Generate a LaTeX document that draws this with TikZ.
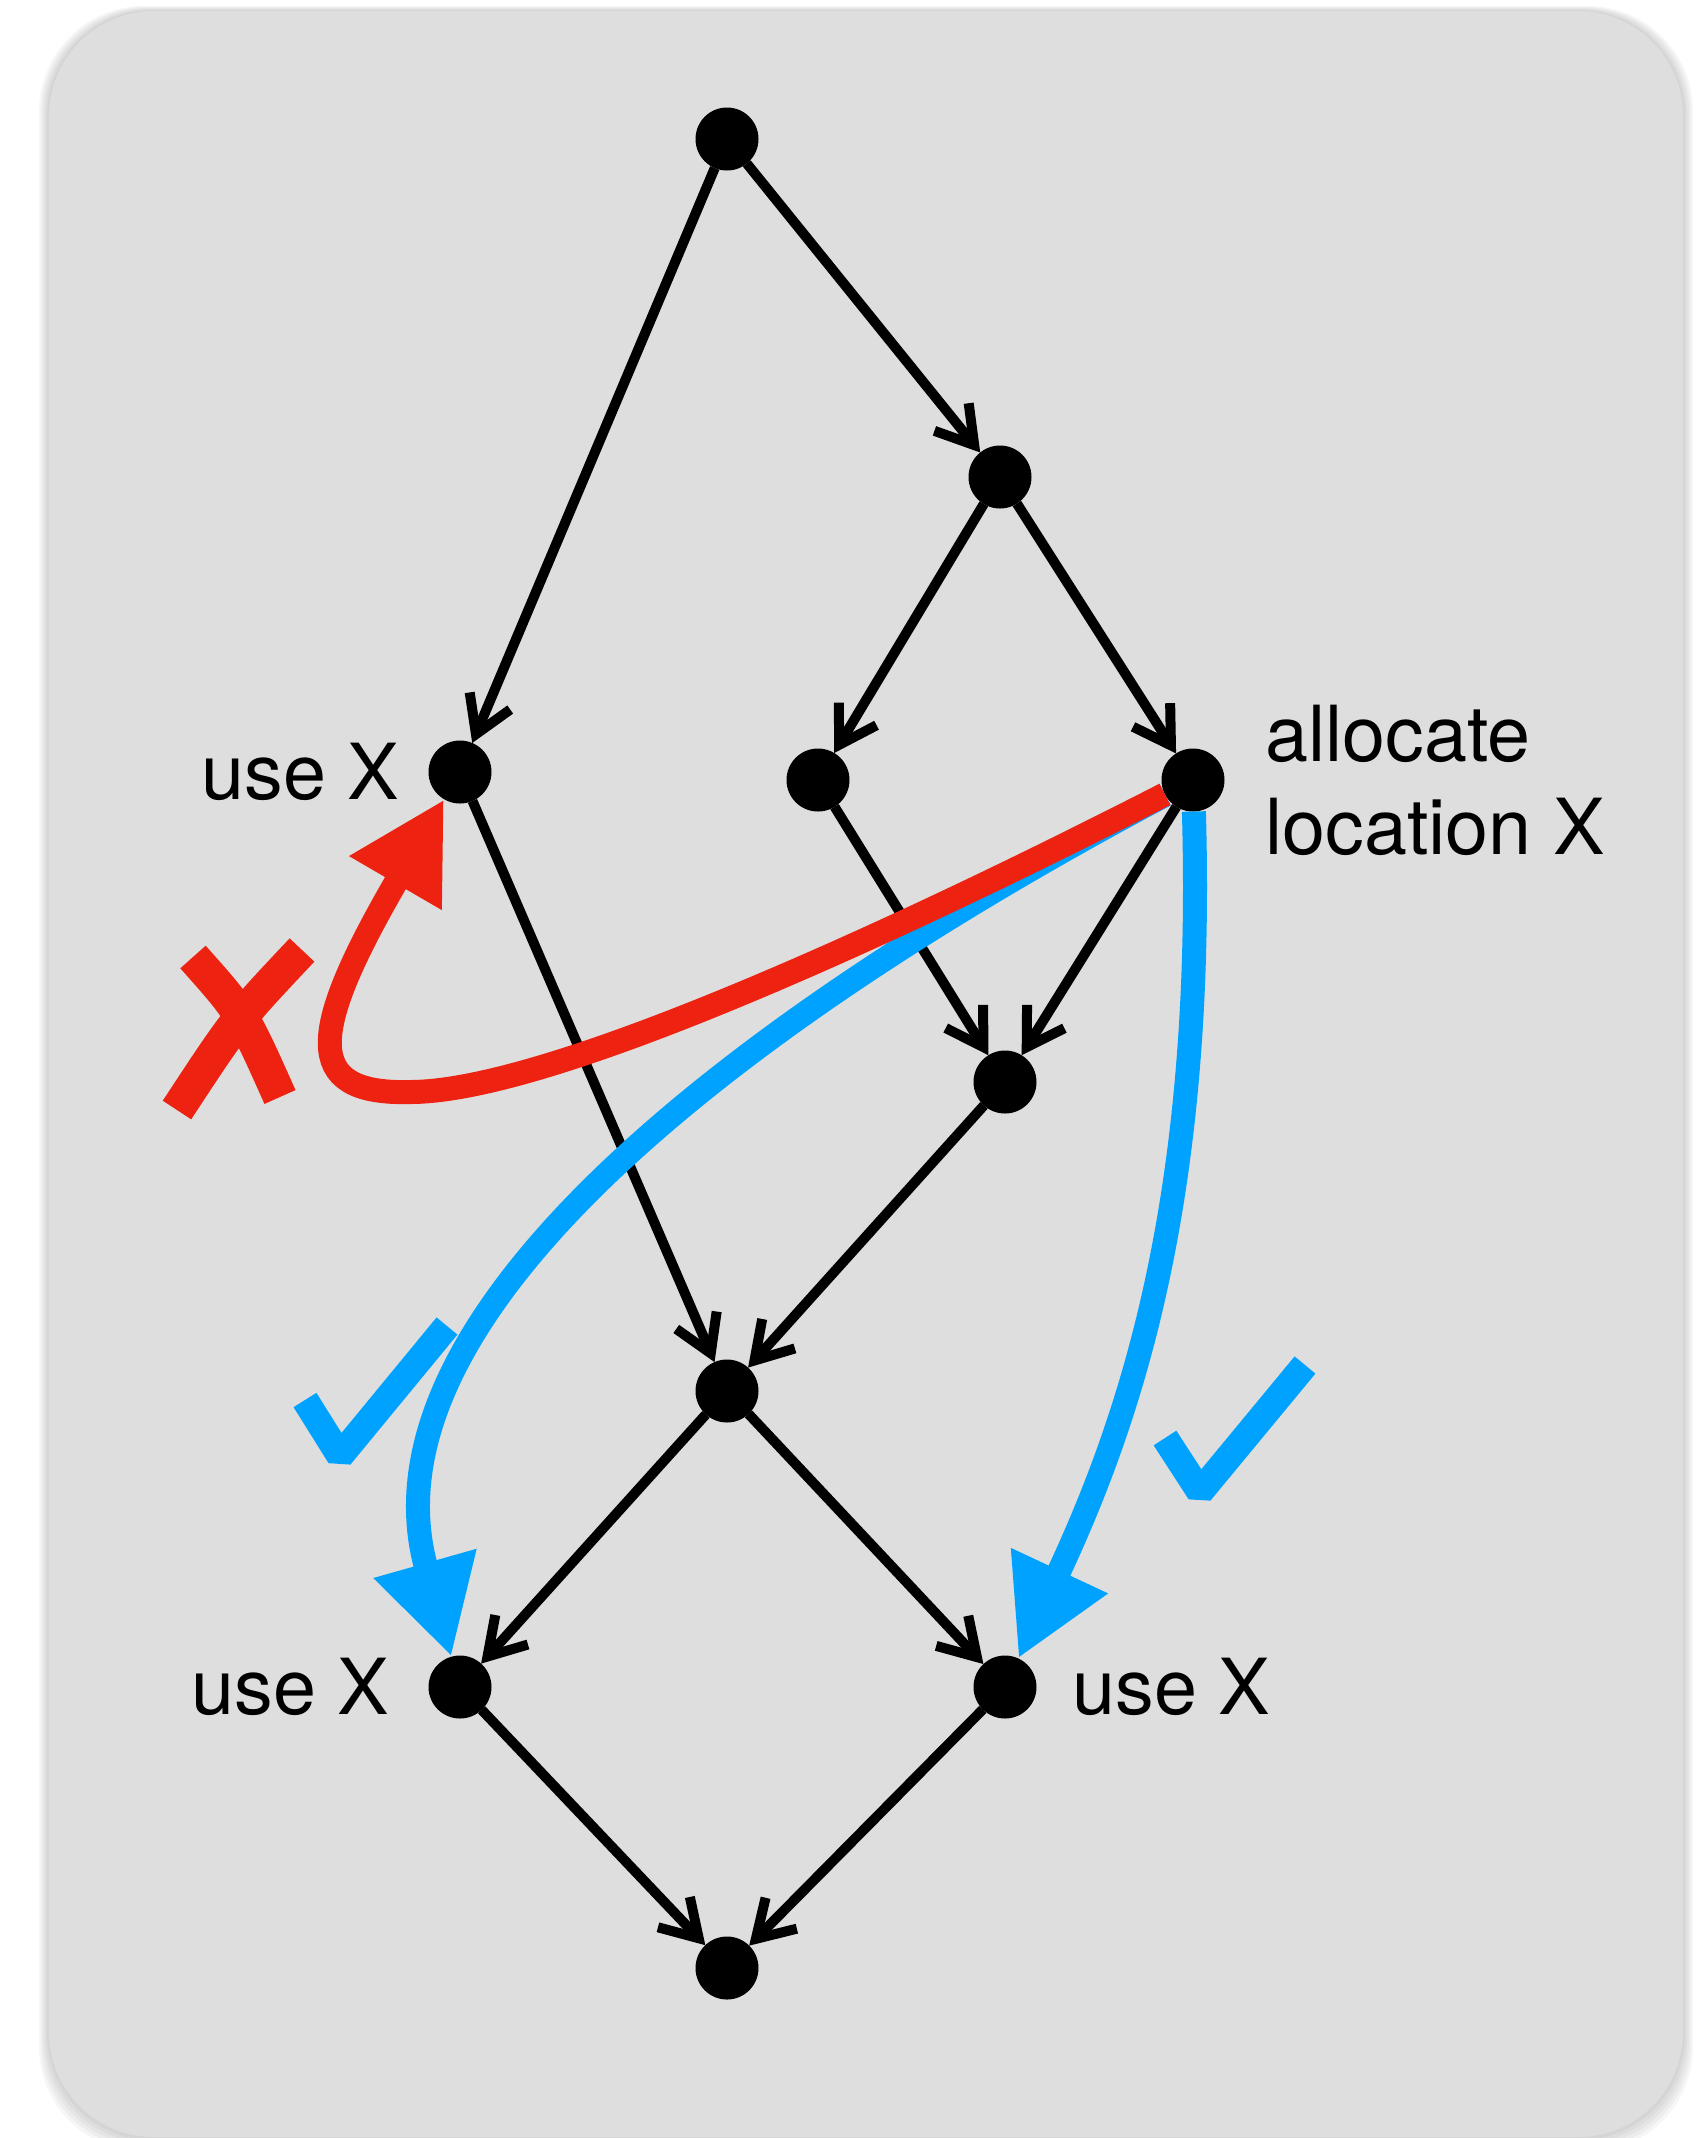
\documentclass[tikz,border=0pt]{standalone}
\usepackage{fontspec}
\setmainfont{TeX Gyre Heros}
\usetikzlibrary{arrows.meta,positioning}
\definecolor{cardgray}{RGB}{222,222,222}
\definecolor{xred}{RGB}{238,34,17}
\definecolor{okblue}{RGB}{0,162,255}

\begin{document}
\begin{tikzpicture}[>={Straight Barb[length=3.6mm,width=4.4mm]}, line width=1mm]
\useasboundingbox (0,0) rectangle (17.05,-21.38);
% card with a soft shadow
\foreach \s in {1,...,5}
  \fill[black,opacity=0.035,rounded corners=1.05cm] (0.49-0.02*\s,-0.11+0.01*\s) rectangle (16.83+0.02*\s,-21.37-0.03*\s);
\fill[cardgray,rounded corners=1.05cm] (0.49,-0.11) rectangle (16.83,-21.37);

\tikzstyle{every node}=[circle,fill=black,minimum size=6.3mm,inner sep=0pt,outer sep=0pt];
\draw (7.27,-1.39) node   (top) {};
\draw (10.00,-4.77) node  (n2) {};
\draw (4.60,-7.72) node   (useA) {};
\draw (8.18,-7.80) node   (mid) {};
\draw (11.93,-7.80) node  (alloc) {};
\draw (10.05,-10.82) node (n6) {};
\draw (7.27,-13.91) node  (n7) {};
\draw (4.60,-16.87) node  (useB) {};
\draw (10.05,-16.87) node (useC) {};
\draw (7.27,-19.68) node  (bot) {};

\tikzset{every node/.style={font=\fontsize{22}{26.4}\selectfont,inner sep=0pt}}
\node[left=0.24cm of useA] (useAtxt) {use X};
\node[left=0.34cm of useB] (useBtxt) {use X};
\node[right=0.31cm of useC] (useCtxt) {use X};
\node[right=0.36cm of alloc,align=left] (alloctxt) {allocate\\location X};

\draw (top) edge [->] (n2);
\draw (top) edge [->] (useA);
\draw (n2) edge [->] (mid);
\draw (n2) edge [->] (alloc);
\draw (useA) edge [->] (n7);
\draw (mid) edge [->] (n6);
\draw (alloc) edge [->] (n6);
\draw (n6) edge [->] (n7);
\draw (n7) edge [->] (useB);
\draw (n7) edge [->] (useC);
\draw (useB) edge [->] (bot);
\draw (useC) edge [->] (bot);

% where X may be used
\tikzstyle{bigtip}=[line width=2.4mm,-{Triangle[length=9.7mm,width=10mm]}]
\draw[okblue,bigtip] (alloc) .. controls (6.85,-10.50) and (3.60,-13.34) .. (useB);
\draw[okblue,bigtip] (alloc) .. controls (12.05,-12.00) and (11.30,-14.20) .. (useC);
\draw[xred,bigtip] (alloc) .. controls (9.00,-9.30) and (5.50,-10.92) .. (4.10,-10.92)
  .. controls (3.00,-10.95) and (3.10,-10.30) .. (useA);

% cross and ticks
\draw[xred,line width=3.4mm] (1.93,-9.57) .. controls (2.42,-10.12) .. (2.80,-10.97);
\draw[xred,line width=3.4mm] (3.02,-9.50) .. controls (2.36,-10.20) .. (1.77,-11.10);
\draw[okblue,line width=2.7mm,line join=bevel] (3.05,-14.00) -- (3.40,-14.56) -- (4.47,-13.26);
\draw[okblue,line width=2.7mm,line join=bevel] (11.65,-14.38) -- (12.00,-14.92) -- (13.05,-13.65);
\end{tikzpicture}
\end{document}
